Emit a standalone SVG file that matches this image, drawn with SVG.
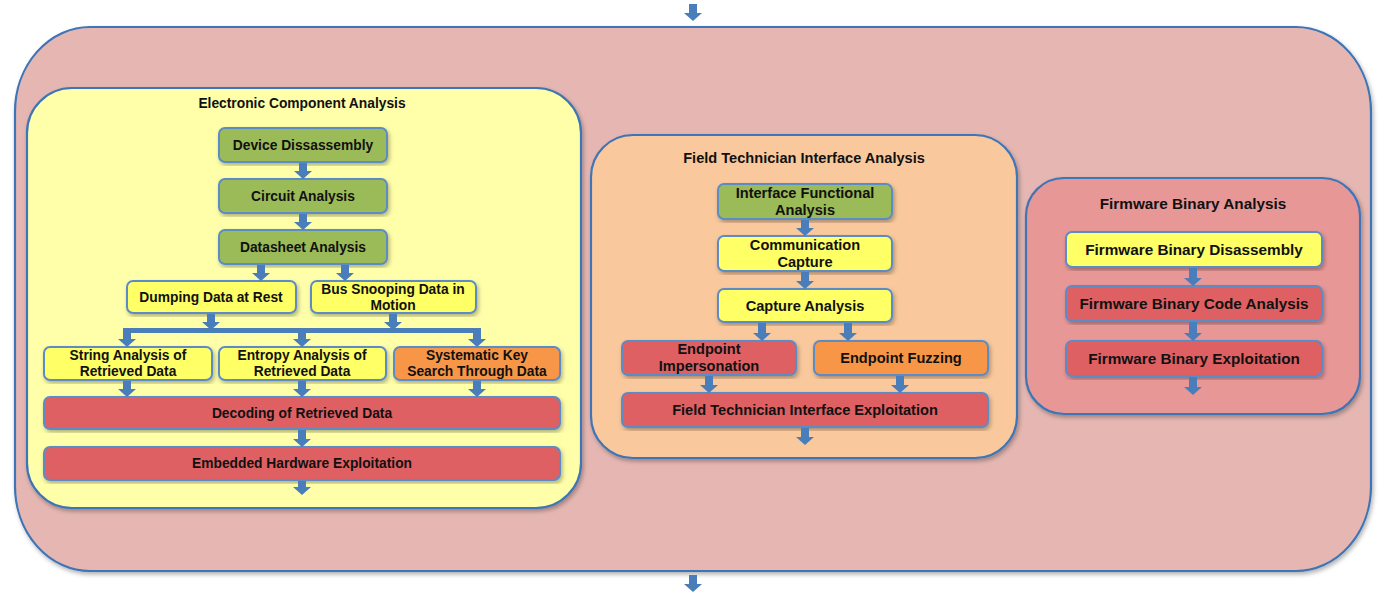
<svg xmlns="http://www.w3.org/2000/svg" width="1386" height="595" viewBox="0 0 1386 595">
<defs>
<filter id="sh" x="-5%" y="-5%" width="110%" height="115%"><feDropShadow dx="1.5" dy="2.5" stdDeviation="2" flood-color="#000" flood-opacity="0.3"/></filter>
<marker id="ah" markerUnits="userSpaceOnUse" viewBox="0 0 8 18" markerWidth="8" markerHeight="18" refX="0" refY="9" orient="auto"><path d="M0,0 L8,9 L0,18 Z" fill="#4A7EBB"/></marker>
<style>
.panel{stroke:#3C74B6;stroke-width:2.2;filter:url(#sh)}
.node{stroke:#5B8BC6;stroke-width:2;filter:url(#sh)}
.g{fill:#9BBB59}.y{fill:#FFFF66}.o{fill:#F79646}.r{fill:#DF6163}
text{font-family:"Liberation Sans",Arial,sans-serif;font-weight:bold;font-size:13.8px;fill:#111;text-anchor:middle}
.f text{font-size:14.6px}
.w text{font-size:15.3px}
.c line{stroke:#4A7EBB;stroke-width:8;marker-end:url(#ah)}
.bar{stroke:#4A7EBB;stroke-width:5;fill:none}
</style>
</defs>
<rect width="1386" height="595" fill="#fff"/>
<g id="outer"><rect x="15" y="27" width="1356" height="544" rx="75" ry="85" fill="#E6B7B2" class="panel"/></g>

<g id="panel-electronic">
<rect x="27" y="88" width="554" height="420" rx="45" fill="#FFFFAA" class="panel"/>
<text x="302" y="108">Electronic Component Analysis</text>
</g>
<g id="panel-field" class="f">
<rect x="591" y="135" width="426" height="323" rx="42" fill="#F9C99D" class="panel"/>
<text x="804" y="163">Field Technician Interface Analysis</text>
</g>
<g id="panel-firmware" class="w">
<rect x="1026" y="178" width="334" height="236" rx="38" fill="#E89797" class="panel"/>
<text x="1193" y="209">Firmware Binary Analysis</text>
</g>

<g id="n-device"><rect x="219" y="128" width="168" height="34" rx="6" class="node g"/><text x="303" y="150">Device Dissassembly</text></g>
<g id="n-circuit"><rect x="219" y="179" width="168" height="34" rx="6" class="node g"/><text x="303" y="201">Circuit Analysis</text></g>
<g id="n-datasheet"><rect x="219" y="230" width="168" height="34" rx="6" class="node g"/><text x="303" y="252">Datasheet Analysis</text></g>
<g id="n-dumping"><rect x="127" y="281" width="169" height="32" rx="6" class="node y"/><text x="211" y="302">Dumping Data at Rest</text></g>
<g id="n-bus"><rect x="311" y="281" width="165" height="32" rx="6" class="node y"/><text x="393" y="294">Bus Snooping Data in</text><text x="393" y="310">Motion</text></g>
<g id="n-string"><rect x="44" y="347" width="168" height="33" rx="6" class="node y"/><text x="128" y="360">String Analysis of</text><text x="128" y="376">Retrieved Data</text></g>
<g id="n-entropy"><rect x="219" y="347" width="167" height="33" rx="6" class="node y"/><text x="302" y="360">Entropy Analysis of</text><text x="302" y="376">Retrieved Data</text></g>
<g id="n-systematic"><rect x="394" y="347" width="166" height="33" rx="6" class="node o"/><text x="477" y="360">Systematic Key</text><text x="477" y="376">Search Through Data</text></g>
<g id="n-decoding"><rect x="44" y="397" width="516" height="32" rx="6" class="node r"/><text x="302" y="418">Decoding of Retrieved Data</text></g>
<g id="n-embedded"><rect x="44" y="447" width="516" height="33" rx="6" class="node r"/><text x="302" y="468">Embedded Hardware Exploitation</text></g>

<g id="n-interface" class="f"><rect x="718" y="184" width="174" height="35" rx="6" class="node g"/><text x="805" y="198">Interface Functional</text><text x="805" y="215">Analysis</text></g>
<g id="n-comm" class="f"><rect x="718" y="236" width="174" height="35" rx="6" class="node y"/><text x="805" y="250">Communication</text><text x="805" y="267">Capture</text></g>
<g id="n-capture" class="f"><rect x="718" y="289" width="174" height="33" rx="6" class="node y"/><text x="805" y="311">Capture Analysis</text></g>
<g id="n-imperson" class="f"><rect x="622" y="341" width="174" height="34" rx="6" class="node r"/><text x="709" y="354">Endpoint</text><text x="709" y="371">Impersonation</text></g>
<g id="n-fuzzing" class="f"><rect x="814" y="341" width="174" height="34" rx="6" class="node o"/><text x="901" y="363">Endpoint Fuzzing</text></g>
<g id="n-fieldexp" class="f"><rect x="622" y="393" width="366" height="34" rx="6" class="node r"/><text x="805" y="415">Field Technician Interface Exploitation</text></g>

<g id="n-fwdis" class="w"><rect x="1066" y="232" width="256" height="35" rx="6" class="node y"/><text x="1194" y="255">Firmware Binary Disassembly</text></g>
<g id="n-fwcode" class="w"><rect x="1066" y="286" width="256" height="35" rx="6" class="node r"/><text x="1194" y="309">Firmware Binary Code Analysis</text></g>
<g id="n-fwexp" class="w"><rect x="1066" y="341" width="256" height="35" rx="6" class="node r"/><text x="1194" y="364">Firmware Binary Exploitation</text></g>

<g id="connectors" class="c">
<line x1="693" y1="4" x2="693" y2="13"/>
<line x1="693" y1="575" x2="693" y2="584"/>
<line x1="303" y1="163" x2="303" y2="171"/>
<line x1="303" y1="214" x2="303" y2="222"/>
<line x1="261" y1="265" x2="261" y2="273"/>
<line x1="345" y1="265" x2="345" y2="273"/>
<line x1="211" y1="314" x2="211" y2="322"/>
<line x1="393" y1="314" x2="393" y2="322"/>
<path class="bar" d="M123,330.5 H481"/>
<line x1="127" y1="330" x2="127" y2="339"/>
<line x1="302" y1="330" x2="302" y2="339"/>
<line x1="477" y1="330" x2="477" y2="339"/>
<line x1="127" y1="381" x2="127" y2="389"/>
<line x1="302" y1="381" x2="302" y2="389"/>
<line x1="477" y1="381" x2="477" y2="389"/>
<line x1="302" y1="430" x2="302" y2="439"/>
<line x1="302" y1="481" x2="302" y2="487"/>
<line x1="805" y1="220" x2="805" y2="228"/>
<line x1="805" y1="272" x2="805" y2="281"/>
<line x1="762" y1="323" x2="762" y2="333"/>
<line x1="848" y1="323" x2="848" y2="333"/>
<line x1="709" y1="376" x2="709" y2="385"/>
<line x1="900" y1="376" x2="900" y2="385"/>
<line x1="805" y1="428" x2="805" y2="437"/>
<line x1="1193" y1="268" x2="1193" y2="278"/>
<line x1="1193" y1="322" x2="1193" y2="333"/>
<line x1="1193" y1="377" x2="1193" y2="387"/>
</g>
</svg>
